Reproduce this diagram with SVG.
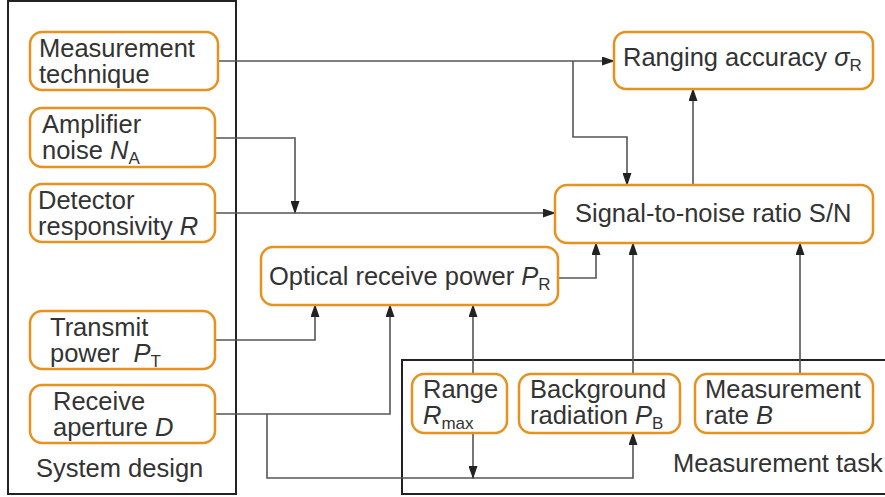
<svg xmlns="http://www.w3.org/2000/svg" width="885" height="497" viewBox="0 0 885 497">
<style>
text{font-family:"Liberation Sans",Arial,sans-serif;font-size:25.5px;fill:#333}
.sub{font-size:17px;font-style:normal}
.it{font-style:italic}
.node{fill:#fff;stroke:#E8911F;stroke-width:2.5}
.frame{fill:none;stroke:#222;stroke-width:2}
.conn path{fill:none;stroke:#555;stroke-width:1.6}
</style>
<defs>
<marker id="ah" markerUnits="userSpaceOnUse" markerWidth="13" markerHeight="9" refX="12" refY="4.5" orient="auto">
<path d="M0,0 L13,4.5 L0,9 z" fill="#222"/>
</marker>
</defs>
<g id="system-design">
<rect class="frame" x="8" y="1" width="228" height="493"/>
<text x="36" y="477">System design</text>
</g>
<g id="measurement-task">
<path class="frame" d="M888,360 H402 V494 H888"/>
<text x="673" y="472">Measurement task</text>
</g>
<g class="conn" id="connectors">
<path d="M218,61 H614" marker-end="url(#ah)"/>
<path d="M573,61 V137 H627 V185" marker-end="url(#ah)"/>
<path d="M215,138 H295 V213" marker-end="url(#ah)"/>
<path d="M215,213 H555" marker-end="url(#ah)"/>
<path d="M693,185 V89" marker-end="url(#ah)"/>
<path d="M558,278 H596 V243" marker-end="url(#ah)"/>
<path d="M215,340 H315 V305" marker-end="url(#ah)"/>
<path d="M215,414 H390 V305" marker-end="url(#ah)"/>
<path d="M267,414 V478 H633 V433" marker-end="url(#ah)"/>
<path d="M473,374 V305" marker-end="url(#ah)"/>
<path d="M473,433 V478" marker-end="url(#ah)"/>
<path d="M633,374 V243" marker-end="url(#ah)"/>
<path d="M800,374 V243" marker-end="url(#ah)"/>
</g>
<g id="measurement-technique">
<rect class="node" x="30" y="32" width="188" height="58" rx="12"/>
<text x="39" y="57">Measurement</text>
<text x="39" y="83">technique</text>
</g>
<g id="amplifier-noise">
<rect class="node" x="30" y="108" width="185" height="59" rx="12"/>
<text x="42" y="133">Amplifier</text>
<text x="42" y="159">noise <tspan class="it">N</tspan><tspan class="sub" dy="5">A</tspan></text>
</g>
<g id="detector-responsivity">
<rect class="node" x="30" y="184" width="185" height="58" rx="12"/>
<text x="38" y="209">Detector</text>
<text x="38" y="235">responsivity <tspan class="it">R</tspan></text>
</g>
<g id="transmit-power">
<rect class="node" x="30" y="311" width="185" height="58" rx="12"/>
<text x="50" y="336">Transmit</text>
<text x="50" y="362">power <tspan class="it" dx="7">P</tspan><tspan class="sub" dy="5">T</tspan></text>
</g>
<g id="receive-aperture">
<rect class="node" x="30" y="385" width="185" height="58" rx="12"/>
<text x="53" y="410">Receive</text>
<text x="53" y="436">aperture <tspan class="it">D</tspan></text>
</g>
<g id="ranging-accuracy">
<rect class="node" x="614" y="32" width="259" height="57" rx="12"/>
<text x="623" y="66">Ranging accuracy <tspan class="it">σ</tspan><tspan class="sub" dy="5">R</tspan></text>
</g>
<g id="signal-to-noise">
<rect class="node" x="555" y="185" width="318" height="58" rx="12"/>
<text x="575" y="222">Signal-to-noise ratio S/N</text>
</g>
<g id="optical-receive-power">
<rect class="node" x="261" y="247" width="297" height="58" rx="12"/>
<text x="269" y="285">Optical receive power <tspan class="it">P</tspan><tspan class="sub" dy="5">R</tspan></text>
</g>
<g id="range">
<rect class="node" x="412" y="374" width="95" height="59" rx="12"/>
<text x="423" y="398">Range</text>
<text x="423" y="424"><tspan class="it">R</tspan><tspan class="sub" dy="5">max</tspan></text>
</g>
<g id="background-radiation">
<rect class="node" x="519" y="374" width="161" height="59" rx="12"/>
<text x="530" y="398">Background</text>
<text x="530" y="424">radiation <tspan class="it">P</tspan><tspan class="sub" dy="5">B</tspan></text>
</g>
<g id="measurement-rate">
<rect class="node" x="695" y="374" width="178" height="59" rx="12"/>
<text x="705" y="398">Measurement</text>
<text x="705" y="424">rate <tspan class="it">B</tspan></text>
</g>
</svg>
